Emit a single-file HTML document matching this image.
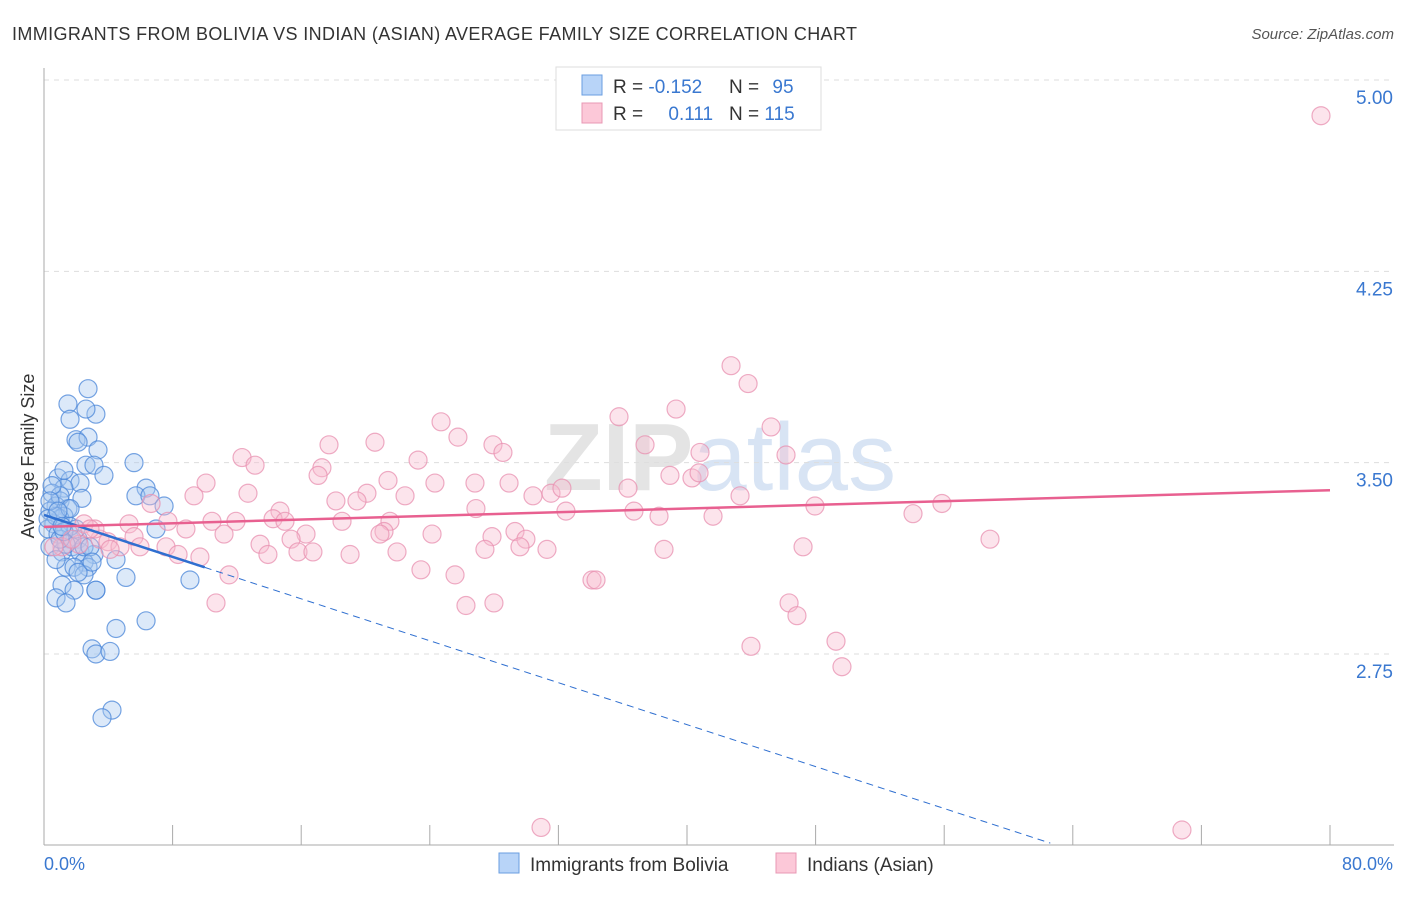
<!DOCTYPE html>
<html><head><meta charset="utf-8"><style>
body{margin:0;background:#fff;font-family:"Liberation Sans",sans-serif;}
svg text{font-family:"Liberation Sans",sans-serif;}
</style></head><body>
<svg width="1406" height="892" xmlns="http://www.w3.org/2000/svg">
<text x="12" y="40" font-size="18" fill="#333" textLength="845" lengthAdjust="spacing">IMMIGRANTS FROM BOLIVIA VS INDIAN (ASIAN) AVERAGE FAMILY SIZE CORRELATION CHART</text>
<text x="1394" y="39" font-size="15" fill="#555" font-style="italic" text-anchor="end">Source: ZipAtlas.com</text>
<text x="720" y="490" font-size="96" fill="#e4e4e4" text-anchor="middle" font-weight="bold">ZIP<tspan fill="#d8e4f4" font-weight="normal">atlas</tspan></text>
<g id="grid"></g>
<g id="axes"></g>
<g id="pts"></g>
<g id="lines"></g>
<text transform="translate(34,456) rotate(-90)" font-size="18" fill="#333" text-anchor="middle">Average Family Size</text>
<text x="44" y="870" font-size="18" fill="#3a78d0">0.0%</text>
<text x="1393" y="870" font-size="18" fill="#3a78d0" text-anchor="end">80.0%</text>
<g>
<rect x="556" y="67" width="265" height="63" fill="#fff" stroke="#ddd"/>
<rect x="582" y="75" width="20" height="20" fill="#b8d4f8" stroke="#6a9ee0"/>
<rect x="582" y="103" width="20" height="20" fill="#fcc8d8" stroke="#e898b4"/>
<text x="613" y="93" font-size="19" fill="#333">R = <tspan fill="#3a78d0">-0.152</tspan></text>
<text x="729" y="93" font-size="19" fill="#333">N = <tspan fill="#3a78d0" dx="8">95</tspan></text>
<text x="613" y="120" font-size="19" fill="#333">R = <tspan fill="#3a78d0" dx="20">0.111</tspan></text>
<text x="729" y="120" font-size="19" fill="#333">N = <tspan fill="#3a78d0">115</tspan></text>
</g>
<g>
<rect x="499" y="853" width="20" height="20" fill="#b8d4f8" stroke="#6a9ee0"/>
<text x="530" y="871" font-size="19" fill="#333">Immigrants from Bolivia</text>
<rect x="776" y="853" width="20" height="20" fill="#fcc8d8" stroke="#e898b4"/>
<text x="807" y="871" font-size="19" fill="#333">Indians (Asian)</text>
</g>
</svg>
<script>
const yTicks=[5.00,4.25,3.50,2.75];
const yTickLabels=["5.00","4.25","3.50","2.75"];
const blueX=[2.74,1.49,3.23,1.62,2.61,1.99,2.74,2.12,3.36,5.60,2.61,3.11,0.87,1.62,2.24,3.73,6.35,1.24,0.50,1.00,2.36,5.72,6.59,7.47,0.75,1.49,0.37,1.24,1.00,0.62,6.97,0.25,0.87,1.62,2.12,0.37,1.12,1.74,2.24,3.11,2.49,1.37,2.74,1.87,4.48,5.10,9.08,1.12,2.49,3.23,1.87,0.75,1.37,6.35,4.48,2.99,3.23,4.11,4.23,3.61,1.24,1.00,0.50,0.75,1.62,0.25,1.37,0.75,2.12,3.23,1.00,2.49,1.62,2.86,1.24,0.37,0.87,1.99,1.12,2.99];
const blueY=[3.79,3.73,3.69,3.67,3.71,3.59,3.60,3.58,3.55,3.50,3.49,3.49,3.44,3.43,3.42,3.45,3.40,3.40,3.38,3.35,3.36,3.37,3.37,3.33,3.33,3.32,3.31,3.29,3.28,3.26,3.24,3.24,3.22,3.20,3.20,3.17,3.15,3.17,3.15,3.14,3.11,3.09,3.09,3.09,3.12,3.05,3.04,3.02,3.06,3.00,3.00,2.97,2.95,2.88,2.85,2.77,2.75,2.76,2.53,2.50,3.47,3.37,3.41,3.29,3.25,3.28,3.18,3.12,3.07,3.00,3.20,3.17,3.32,3.17,3.23,3.35,3.31,3.24,3.25,3.11];
const pinkX=[79.44,42.74,43.80,39.32,35.77,24.70,25.75,45.23,17.73,20.59,27.93,37.39,28.55,40.81,46.16,12.32,13.13,17.29,23.27,17.05,38.94,40.31,40.75,21.40,10.08,24.32,26.81,28.93,36.33,12.69,9.33,20.09,22.46,30.42,31.54,32.22,43.30,18.16,19.47,26.87,32.47,47.96,55.86,54.06,14.68,36.70,38.26,41.62,6.66,11.94,14.25,18.54,21.52,10.45,5.29,7.71,14.99,8.83,21.15,24.14,29.30,11.20,16.30,15.37,13.44,20.90,27.87,29.98,58.85,3.48,5.60,3.98,4.73,5.97,7.59,8.34,9.70,13.93,15.80,16.73,19.04,21.96,27.43,29.61,31.29,38.57,47.22,2.18,1.12,3.17,11.51,23.45,25.57,34.09,34.34,10.70,26.25,27.99,46.35,46.84,49.27,43.98,49.64,30.92,70.79,2.49,1.74,0.62,2.86,4.11];
const pinkY=[4.86,3.88,3.81,3.71,3.68,3.66,3.60,3.64,3.57,3.58,3.57,3.57,3.54,3.54,3.53,3.52,3.49,3.48,3.51,3.45,3.45,3.44,3.46,3.43,3.42,3.42,3.42,3.42,3.40,3.38,3.37,3.38,3.37,3.37,3.38,3.40,3.37,3.35,3.35,3.32,3.31,3.33,3.34,3.30,3.31,3.31,3.29,3.29,3.34,3.27,3.28,3.27,3.27,3.27,3.26,3.27,3.27,3.24,3.23,3.22,3.23,3.22,3.22,3.20,3.18,3.22,3.21,3.20,3.20,3.20,3.21,3.19,3.17,3.17,3.17,3.14,3.13,3.14,3.15,3.15,3.14,3.15,3.16,3.17,3.16,3.16,3.17,3.18,3.17,3.24,3.06,3.08,3.06,3.04,3.04,2.95,2.94,2.95,2.95,2.90,2.80,2.78,2.70,2.07,2.06,3.26,3.20,3.17,3.24,3.16];
const blueTrend=[3.295,-0.02055];
const pinkTrend=[3.248,0.0018];
const NS="http://www.w3.org/2000/svg";
const X=v=>44+v/80*1286;
const Y=v=>80+(5-v)*255.1;
function mk(t,a,p){const e=document.createElementNS(NS,t);for(const k in a)e.setAttribute(k,a[k]);document.getElementById(p).appendChild(e);return e;}
yTicks.forEach((t,i)=>{
 const l=mk('line',{x1:44,x2:1394,y1:Y(t),y2:Y(t),stroke:'#ddd','stroke-dasharray':'5,5'},'grid');
 
 
 const tx=mk('text',{x:1393,y:Y(t)+24,'font-size':19,fill:'#3a78d0','text-anchor':'end'},'grid');
 tx.textContent=yTickLabels[i];
 
 
});
const ax=mk('line',{x1:44,x2:44,y1:68,y2:845,stroke:'#aaa'},'axes');


const bx=mk('line',{x1:44,x2:1394,y1:845,y2:845,stroke:'#aaa'},'axes');


for(let i=1;i<=10;i++){const t=mk('line',{x1:X(i*8),x2:X(i*8),y1:825,y2:845,stroke:'#aaa'},'axes');
 
 }
function pts(xs,ys,fill,stroke,name){xs.forEach((x,i)=>{const c=mk('circle',{cx:X(x),cy:Y(ys[i]),r:9,fill:fill,'fill-opacity':0.4,stroke:stroke,'stroke-opacity':0.75,'stroke-width':1.2},'pts');
 
 });}
pts(blueX,blueY,'#a8c8f0','#4a86d8','bolivia-point');
pts(pinkX,pinkY,'#f8bcd0','#e890b0','indian-point');
const bf=v=>blueTrend[0]+blueTrend[1]*v, pf=v=>pinkTrend[0]+pinkTrend[1]*v;
let l1=mk('line',{x1:X(0),y1:Y(bf(0)),x2:X(10),y2:Y(bf(10)),stroke:'#2f6fd0','stroke-width':2.5},'lines');


let l2=mk('line',{x1:X(10),y1:Y(bf(10)),x2:X(62.6),y2:Y(bf(62.6)),stroke:'#2f6fd0','stroke-width':1,'stroke-dasharray':'7,5'},'lines');


let l3=mk('line',{x1:X(0),y1:Y(pf(0)),x2:X(80),y2:Y(pf(80)),stroke:'#e86090','stroke-width':2.5},'lines');


</script>
</body></html>
